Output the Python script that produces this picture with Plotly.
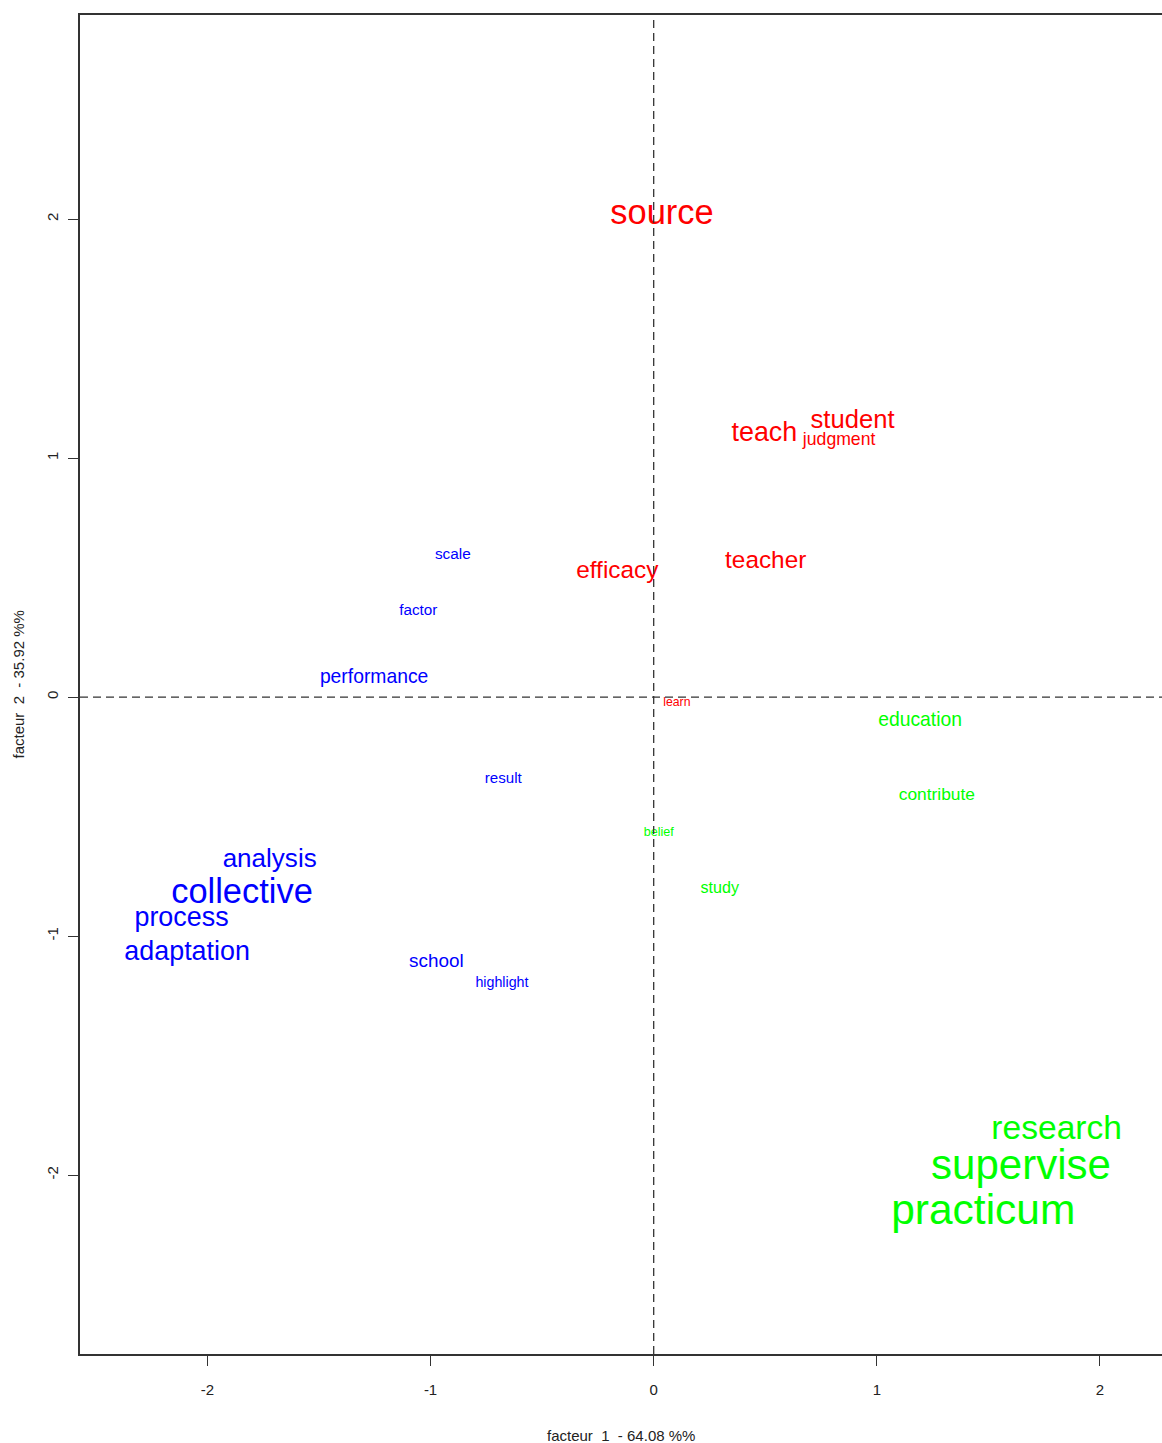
import plotly.graph_objects as go

# Correspondence-analysis word map: coordinates on factors 1 and 2,
# word weight (drawn as font size) and cluster membership.
words = ["source", "teach", "student", "judgment", "teacher", "efficacy", "learn",
         "scale", "factor", "performance", "result", "analysis", "collective",
         "process", "adaptation", "school", "highlight",
         "education", "contribute", "belief", "study", "research", "supervise",
         "practicum"]
factor1 = [0.037, 0.496, 0.891, 0.831, 0.502, -0.163, 0.104,
           -0.900, -1.055, -1.253, -0.674, -1.721, -1.845,
           -2.116, -2.091, -0.974, -0.680,
           1.194, 1.269, 0.023, 0.296, 1.806, 1.646, 1.477]
factor2 = [2.014, 1.100, 1.151, 1.072, 0.564, 0.522, -0.023,
           0.595, 0.358, 0.077, -0.342, -0.686, -0.827,
           -0.930, -1.074, -1.109, -1.199,
           -0.102, -0.414, -0.569, -0.802, -1.814, -1.972, -2.160]
weight = [41, 32, 30.5, 21, 29, 29, 14.6,
          18.3, 18.2, 23, 18, 31, 41,
          32, 32, 22.5, 17,
          23, 20.7, 15, 19.2, 40, 50, 50.6]
cluster = [1, 1, 1, 1, 1, 1, 1,
           2, 2, 2, 2, 2, 2, 2, 2, 2, 2,
           3, 3, 3, 3, 3, 3, 3]

cluster_colors = {1: "#FF0000", 2: "#0000FF", 3: "#00FF00"}

x_title = "facteur  1  - 64.08 %%"
y_title = "facteur  2  - 35.92 %%"
tick_vals = [-2, -1, 0, 1, 2]
tick_text = ["-2", "-1", "0", "1", "2"]

FONT = "Liberation Sans Narrow, Arial Narrow, Liberation Sans, Arial, sans-serif"
SIZE_SCALE = 0.84  # weight -> font px for the regular-width face

fig = go.Figure()
for c in sorted(cluster_colors):
    idx = [i for i, k in enumerate(cluster) if k == c]
    fig.add_trace(go.Scatter(
        x=[factor1[i] for i in idx],
        y=[factor2[i] for i in idx],
        text=[words[i] for i in idx],
        mode="text",
        textposition="middle center",
        textfont=dict(family=FONT, color=cluster_colors[c],
                      size=[weight[i] * SIZE_SCALE for i in idx]),
        hoverinfo="text",
        showlegend=False,
    ))

# dashed reference lines through the origin
fig.add_shape(type="line", xref="x", yref="paper", x0=0, x1=0, y0=0, y1=1,
              line=dict(color="#333333", width=1.3, dash="8px,5px"))
fig.add_shape(type="line", xref="paper", yref="y", x0=0, x1=1, y0=0, y1=0,
              line=dict(color="#333333", width=1.3, dash="8px,5px"))

fig.update_xaxes(range=[-2.571, 2.278], tickvals=tick_vals, ticktext=tick_text,
                 ticks="outside", ticklen=10, tickwidth=1.3, tickcolor="#333333",
                 ticklabelstandoff=11,
                 showline=True, mirror=True, linecolor="#333333", linewidth=1.5,
                 showgrid=False, zeroline=False,
                 tickfont=dict(family=FONT, size=15, color="#222222"))
fig.update_yaxes(range=[-2.749, 2.854], tickvals=tick_vals, ticktext=tick_text,
                 ticks="outside", ticklen=10, tickwidth=1.3, tickcolor="#333333",
                 ticklabelstandoff=4,
                 showline=True, mirror=False, linecolor="#333333", linewidth=1.5,
                 showgrid=False, zeroline=False, tickangle=-90,
                 tickfont=dict(family=FONT, size=15, color="#222222"))

fig.add_annotation(text=x_title, xref="paper", yref="paper", x=0.5, y=0,
                   yanchor="middle", yshift=-81, showarrow=False,
                   font=dict(family=FONT, size=15, color="#222222"))
fig.add_annotation(text=y_title, xref="paper", yref="paper", x=0, y=0.5,
                   xanchor="center", xshift=-62, textangle=-90, showarrow=False,
                   font=dict(family=FONT, size=15, color="#222222"))

fig.update_layout(width=1162, height=1443,
                  margin=dict(l=80, r=0, t=15, b=89),
                  plot_bgcolor="white", paper_bgcolor="white")

fig.write_html("out.html")
